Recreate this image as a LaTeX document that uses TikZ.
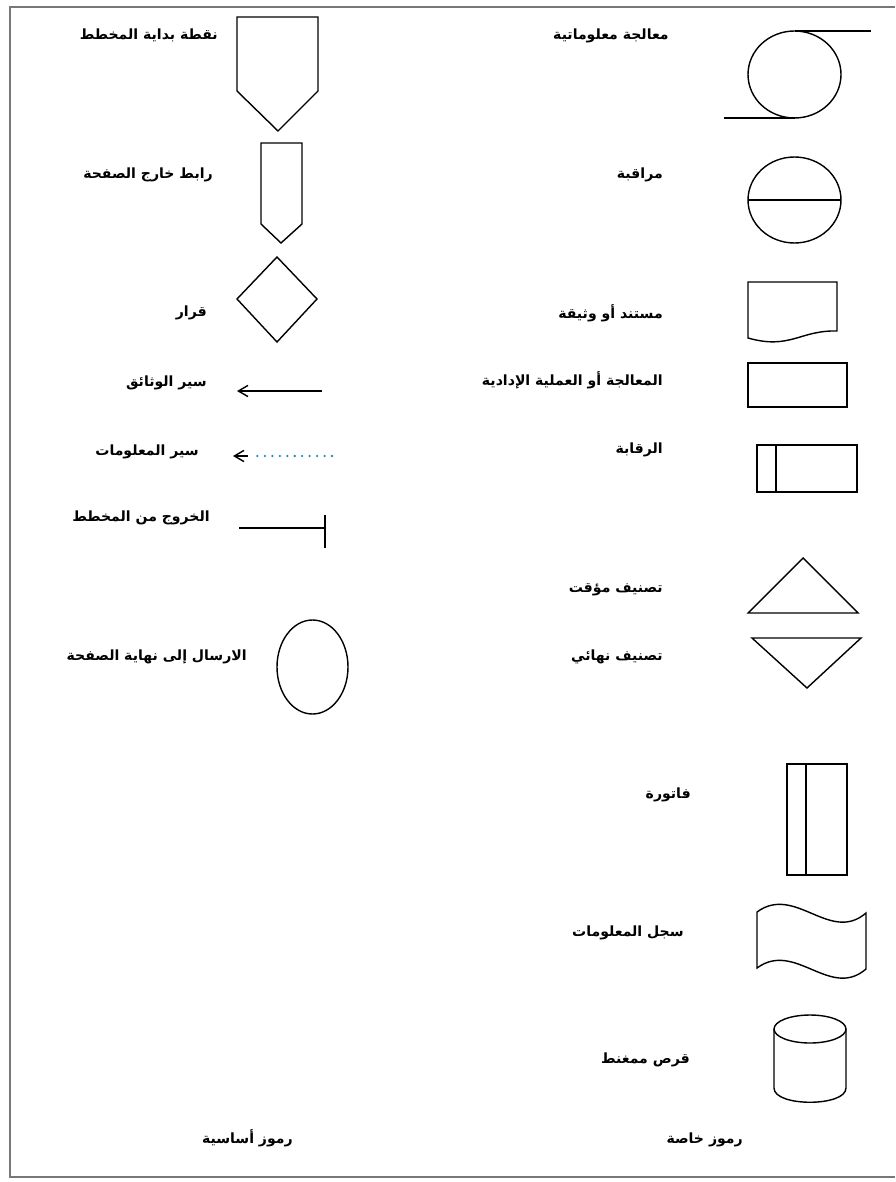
\documentclass[tikz,border=0pt]{standalone}
\usepackage{fontspec}
\newfontfamily\arabicfont[Script=Arabic]{DejaVu Sans}
\TeXXeTstate=1
\usetikzlibrary{arrows.meta}
\definecolor{FrameGray}{RGB}{120,120,120}
\definecolor{InfoTeal}{RGB}{30,140,190}
\begin{document}
\begin{tikzpicture}[x=0.025cm,y=-0.025cm,
       lbl/.style={font=\arabicfont\bfseries\fontsize{10}{11}\selectfont,anchor=east,inner sep=0pt},
       sym/.style={draw,line width=1pt,line join=miter},
       tip/.style={-{Straight Barb[length=2.4mm,width=2.8mm]},line width=1pt}]
  \useasboundingbox (0,0) rectangle (895,1182);
  % frame (its right side lies outside the picture)
  \draw[FrameGray,line width=1.3pt] (895,7) -- (10,7) -- (10,1177) -- (895,1177);

  % basic symbols
  \draw[sym] (237,17) -- (318,17) -- (318,91) -- (278,131) -- (237,91) -- cycle;
  \node[lbl] (start) at (218,35) {\beginR نقطة بداية المخطط\endR};
  \draw[sym] (261,143) -- (302,143) -- (302,224) -- (281,243) -- (261,224) -- cycle;
  \node[lbl] (offpage) at (213,175) {\beginR رابط خارج الصفحة\endR};
  \draw[sym] (277,257) -- (317,299) -- (277,342) -- (237,299) -- cycle;
  \node[lbl] (decision) at (207,313) {\beginR قرار\endR};
  \coordinate (docA) at (322,391); \coordinate (docB) at (237,391);
  \draw[tip] (docA) -- (docB);
  \node[lbl] (docflow) at (207,383) {\beginR سير الوثائق\endR};
  \coordinate (infA) at (332,456); \coordinate (infB) at (257,456);
  \coordinate (infC) at (248,456); \coordinate (infD) at (233,456);
  \draw[InfoTeal,line width=1.8pt,line cap=round,dash pattern=on 0pt off 5.3pt] (infA) -- (infB);
  \draw[tip] (infC) -- (infD);
  \node[lbl] (infoflow) at (199,452) {\beginR سير المعلومات\endR};
  \coordinate (exA) at (239,528); \coordinate (exB) at (325,528);
  \draw[sym] (exA) -- (exB) (325,515) -- (325,548);
  \node[lbl] (exit) at (210,518) {\beginR الخروج من المخطط\endR};
  \draw[sym] (312.5,667) ellipse [x radius=35.5,y radius=47];
  \node[lbl] (pageend) at (247,657) {\beginR الارسال إلى نهاية الصفحة\endR};
  \node[lbl] (basic) at (293,1138) {\beginR رموز أساسية\endR};

  % special symbols
  \draw[sym] (794.5,74.5) ellipse [x radius=46.5,y radius=43.5];
  \draw[sym] (794.5,31) -- (871,31) (724,118) -- (794.5,118);
  \node[lbl] (infoproc) at (669,36) {\beginR معالجة معلوماتية\endR};
  \draw[sym] (794.5,200) ellipse [x radius=46.5,y radius=43];
  \draw[sym] (748,200) -- (841,200);
  \node[lbl] (monitor) at (663,175) {\beginR مراقبة\endR};
  \draw[sym] (748,282) -- (837,282) -- (837,331) .. controls (800,330) and (790,350) .. (748,338) -- cycle;
  \node[lbl] (document) at (663,313) {\beginR مستند أو وثيقة\endR};
  \draw[sym] (748,363) rectangle (847,407);
  \node[lbl] (process) at (663,380) {\beginR المعالجة أو العملية الإدادية\endR};
  \draw[sym] (757,445) rectangle (857,492) (776,445) -- (776,492);
  \node[lbl] (control) at (663,450) {\beginR الرقابة\endR};
  \draw[sym] (803,558) -- (858,613) -- (748,613) -- cycle;
  \node[lbl] (tmpsort) at (663,590) {\beginR تصنيف مؤقت\endR};
  \draw[sym] (752,638) -- (861,638) -- (807,688) -- cycle;
  \node[lbl] (finsort) at (663,657) {\beginR تصنيف نهائي\endR};
  \draw[sym] (787,764) rectangle (847,875) (806,764) -- (806,875);
  \node[lbl] (invoice) at (691,795) {\beginR فاتورة\endR};
  \draw[sym] (757,912) .. controls (795,884) and (830,944) .. (866,913) -- (866,969)
        .. controls (830,1000) and (795,940) .. (757,968) -- cycle;
  \node[lbl] (record) at (684,933) {\beginR سجل المعلومات\endR};
  \draw[sym] (810,1029) ellipse [x radius=36,y radius=14];
  \draw[sym] (774,1029) -- (774,1088) .. controls (774,1107) and (846,1107) .. (846,1088) -- (846,1029);
  \node[lbl] (disk) at (690,1060) {\beginR قرص ممغنط\endR};
  \node[lbl] (special) at (743,1140) {\beginR رموز خاصة\endR};
\end{tikzpicture}
\end{document}
